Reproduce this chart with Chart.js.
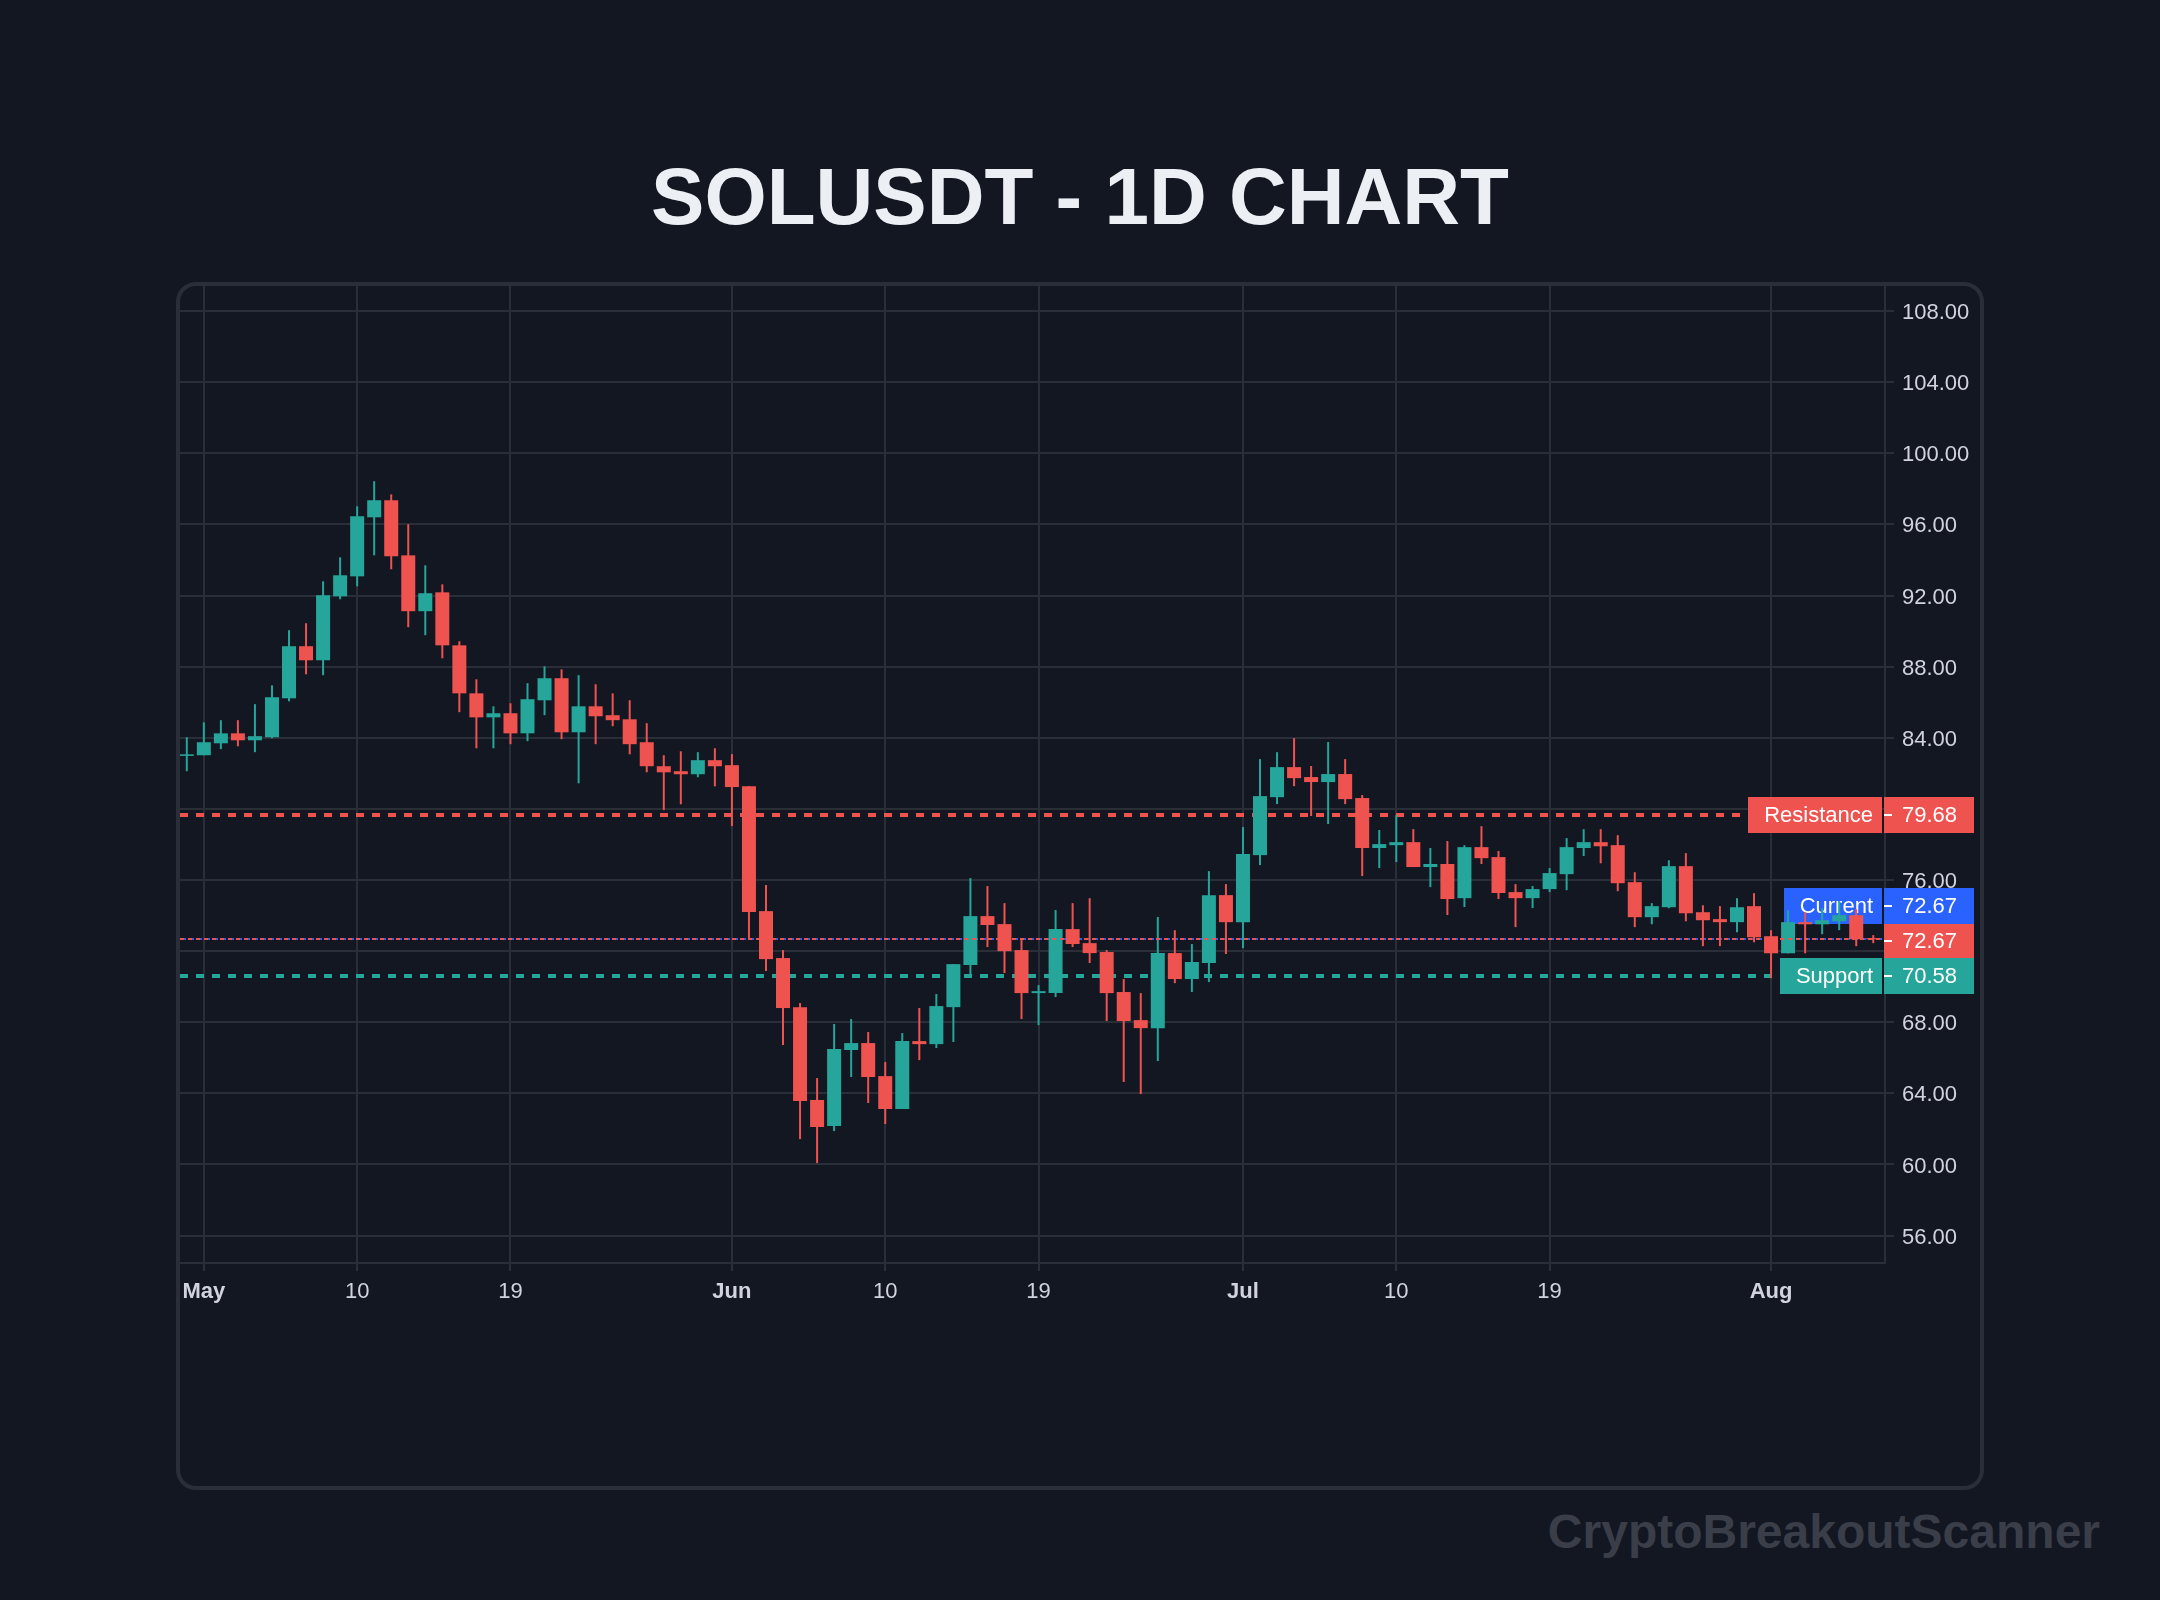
<!DOCTYPE html>
<html>
<head>
<meta charset="utf-8">
<title>SOLUSDT - 1D CHART</title>
<script src="https://cdn.jsdelivr.net/npm/chart.js@4/dist/chart.umd.min.js"></script>
<style>
    html, body { margin: 0; padding: 0; background: #131722; overflow: hidden; }
    body { width: 2160px; height: 1600px; position: relative; font-family: "Liberation Sans", Arial, sans-serif; }
    h1 { position: absolute; left: 0; width: 2160px; top: 157px; margin: 0; text-align: center; font-size: 80px; line-height: 80px; font-weight: bold; color: #eceff3; }
    #frame { position: absolute; left: 176px; top: 282px; width: 1808px; height: 1208px; box-sizing: border-box; border: 4px solid #2a2e39; border-radius: 20px; }
    #chart { position: absolute; left: 0; top: 0; }
    #mark { position: absolute; right: 60px; top: 1508px; font-size: 48px; line-height: 48px; font-weight: bold; color: #3a3e49; }
</style>
</head>
<body>
<h1>SOLUSDT - 1D CHART</h1>
<div id="frame"><canvas id="chart" width="1800" height="1200"></canvas></div>
<div id="mark">CryptoBreakoutScanner</div>
<script>
// daily candles, Apr 30 to Aug 7
const opens = [82.98, 83.02, 83.69, 84.25, 83.86, 84.03, 86.22, 89.15, 88.36, 91.96,
    93.08, 96.40, 97.36, 94.26, 91.12, 92.18, 89.20, 86.50, 85.15, 85.38,
    84.25, 86.11, 87.35, 84.31, 85.77, 85.27, 85.04, 83.75, 82.40, 82.12,
    81.95, 82.74, 82.46, 81.28, 74.25, 71.61, 68.85, 63.63, 62.16, 66.44,
    66.83, 64.97, 63.12, 66.94, 66.77, 68.85, 71.22, 73.97, 73.52, 72.06,
    69.64, 69.64, 73.24, 72.45, 71.95, 69.70, 68.12, 67.67, 71.89, 70.43,
    71.33, 75.15, 73.63, 77.40, 80.66, 82.35, 81.79, 81.51, 81.96, 80.61,
    77.80, 77.96, 78.13, 76.73, 76.90, 74.98, 77.85, 77.29, 75.32, 74.98,
    75.49, 76.33, 77.80, 78.13, 77.96, 75.88, 73.91, 74.47, 76.78, 74.19,
    73.80, 73.63, 74.53, 72.84, 71.88, 73.63, 73.51, 73.68, 74.02, 72.73];
const highs = [84.03, 84.87, 84.99, 84.99, 85.89, 86.95, 90.05, 90.44, 92.80, 94.15,
    97.02, 98.43, 97.69, 96.01, 93.70, 92.63, 89.43, 87.29, 85.77, 85.94,
    87.07, 88.02, 87.85, 87.52, 87.01, 86.50, 86.11, 84.82, 83.02, 83.24,
    83.19, 83.41, 83.08, 81.28, 75.72, 72.06, 69.08, 64.86, 67.90, 68.18,
    67.45, 65.76, 67.39, 68.80, 69.59, 71.27, 76.11, 75.66, 74.70, 72.68,
    70.09, 74.31, 74.70, 74.98, 72.06, 70.43, 69.64, 73.92, 73.18, 72.40,
    76.50, 75.77, 78.98, 82.80, 83.19, 83.98, 82.41, 83.76, 82.80, 80.78,
    78.81, 79.65, 78.86, 77.80, 78.19, 77.96, 79.03, 77.63, 75.77, 75.66,
    76.67, 78.36, 78.86, 78.86, 78.52, 76.44, 74.70, 77.11, 77.51, 74.58,
    74.53, 74.98, 75.26, 73.18, 74.30, 74.19, 74.41, 74.81, 74.36, 72.90];
const lows = [82.12, 83.02, 83.36, 83.52, 83.19, 83.97, 86.05, 87.57, 87.52, 91.79,
    92.52, 94.26, 93.48, 90.22, 89.77, 88.47, 85.44, 83.41, 83.41, 83.64,
    83.81, 85.27, 83.92, 81.44, 83.64, 84.65, 83.07, 82.06, 79.93, 80.26,
    81.78, 81.27, 79.03, 72.68, 70.88, 66.72, 61.43, 60.08, 61.88, 64.92,
    63.46, 62.28, 63.12, 65.87, 66.55, 66.89, 70.65, 72.23, 70.77, 68.18,
    67.84, 69.42, 72.23, 71.33, 68.07, 64.64, 63.96, 65.82, 70.20, 69.70,
    70.26, 71.84, 72.17, 76.84, 80.27, 81.28, 79.60, 79.15, 80.27, 76.22,
    76.67, 77.01, 76.73, 75.60, 74.03, 74.48, 76.90, 74.93, 73.35, 74.42,
    75.32, 75.43, 77.35, 76.94, 75.37, 73.35, 73.51, 74.41, 73.68, 72.28,
    72.28, 73.06, 72.50, 70.48, 71.88, 71.88, 72.95, 73.18, 72.28, 72.45];
const closes = [83.07, 83.75, 84.25, 83.86, 84.09, 86.28, 89.15, 88.36, 92.02, 93.14,
    96.46, 97.36, 94.21, 91.12, 92.13, 89.20, 86.50, 85.15, 85.38, 84.25,
    86.17, 87.35, 84.31, 85.77, 85.21, 84.99, 83.64, 82.40, 82.06, 81.95,
    82.74, 82.40, 81.23, 74.20, 71.55, 68.80, 63.57, 62.11, 66.49, 66.83,
    64.92, 63.12, 66.94, 66.77, 68.91, 71.27, 73.97, 73.47, 72.00, 69.64,
    69.75, 73.24, 72.40, 71.89, 69.64, 68.07, 67.67, 71.89, 70.43, 71.39,
    75.15, 73.63, 77.46, 80.72, 82.35, 81.73, 81.51, 81.96, 80.55, 77.80,
    78.02, 78.13, 76.73, 76.90, 74.93, 77.85, 77.23, 75.27, 74.98, 75.49,
    76.39, 77.85, 78.13, 77.90, 75.82, 73.91, 74.53, 76.78, 74.13, 73.74,
    73.63, 74.47, 72.78, 71.88, 73.63, 73.51, 73.74, 74.02, 72.67, 72.67];

const tickPositions = [1, 10, 19, 32, 41, 50, 62, 71, 80, 93];
const tickLabels = ["May", "10", "19", "Jun", "10", "19", "Jul", "10", "19", "Aug"];
const monthLabels = ["May", "Jun", "Jul", "Aug"];
const priceTicks = [56, 60, 64, 68, 72, 76, 80, 84, 88, 92, 96, 100, 104, 108];

const resistance = 79.68;
const support = 70.58;
const current = 72.67;

const UP = "#26a69a";
const DOWN = "#ef5350";
const BLUE = "#2962ff";
const GRID = "#2a2e39";
const TEXT = "#d1d4dc";
const FONT = '"Liberation Sans", Arial, sans-serif';

const candleColors = closes.map((c, i) => c >= opens[i] ? UP : DOWN);

function hLine(ctx, area, y, color, width, dash, right) {
    ctx.save();
    ctx.strokeStyle = color;
    ctx.lineWidth = width;
    ctx.setLineDash(dash);
    ctx.beginPath();
    ctx.moveTo(area.left, Math.round(y));
    ctx.lineTo(right, Math.round(y));
    ctx.stroke();
    ctx.restore();
}

function priceBox(ctx, area, centerY, name, value, color) {
    const top = Math.round(centerY) - 18;
    const text = value.toFixed(2);
    ctx.save();
    ctx.font = "22px " + FONT;
    ctx.textBaseline = "middle";
    ctx.fillStyle = color;
    ctx.fillRect(area.right - 1, top, 90, 36);
    ctx.fillStyle = "#ffffff";
    ctx.fillRect(area.right - 1, top + 17, 8, 2);
    ctx.fillText(text, area.right + 17, top + 19);
    if (name) {
        const w = Math.round(ctx.measureText(name).width) + 25;
        ctx.fillStyle = color;
        ctx.fillRect(area.right - 3 - w, top, w, 36);
        ctx.fillStyle = "#ffffff";
        ctx.textAlign = "right";
        ctx.fillText(name, area.right - 12, top + 19);
    }
    ctx.restore();
}

// lines and labels sit under the candles, only the red last price line goes over them
const overlays = {
    id: "overlays",
    beforeDatasetsDraw(chart) {
        const ctx = chart.ctx, area = chart.chartArea, y = chart.scales.y;
        const rightEnd = area.right - 3;
        hLine(ctx, area, y.getPixelForValue(current), BLUE, 2, [6, 2], rightEnd);
        hLine(ctx, area, y.getPixelForValue(resistance), DOWN, 4, [8, 8], rightEnd);
        hLine(ctx, area, y.getPixelForValue(support), UP, 4, [8, 8], rightEnd);
        priceBox(ctx, area, y.getPixelForValue(resistance), "Resistance", resistance, DOWN);
        priceBox(ctx, area, y.getPixelForValue(current) + 2, null, current, DOWN);
        priceBox(ctx, area, y.getPixelForValue(current) - 33, "Current", current, BLUE);
        priceBox(ctx, area, y.getPixelForValue(support), "Support", support, UP);
    },
    afterDatasetsDraw(chart) {
        const ctx = chart.ctx, area = chart.chartArea, y = chart.scales.y;
        hLine(ctx, area, y.getPixelForValue(current), DOWN, 2, [4, 4], area.right - 3);
    }
};

function noPadding(s) {
    s.paddingTop = s.paddingBottom = s.paddingLeft = s.paddingRight = 0;
}

new Chart(document.getElementById("chart"), {
    type: "bar",
    data: {
        datasets: [{
            label: "wick",
            data: lows.map((l, i) => ({ x: i, y: [l, highs[i]] })),
            backgroundColor: candleColors,
            barThickness: 2,
            maxBarThickness: 2,
            order: 2
        }, {
            label: "body",
            data: opens.map((o, i) => ({ x: i, y: [o, closes[i]] })),
            backgroundColor: candleColors,
            barThickness: 14,
            maxBarThickness: 14,
            order: 1
        }]
    },
    plugins: [overlays],
    options: {
        responsive: false,
        devicePixelRatio: 1,
        animation: false,
        events: [],
        layout: { padding: 0, autoPadding: false },
        datasets: { bar: { grouped: false, borderWidth: 0, inflateAmount: 0 } },
        plugins: { legend: { display: false }, title: { display: false }, tooltip: { enabled: false } },
        scales: {
            x: {
                type: "linear",
                offset: false,
                min: -0.3992,
                max: 99.689,
                afterBuildTicks: s => { s.ticks = tickPositions.map(v => ({ value: v })); },
                afterFit: s => { s.height = 223; noPadding(s); },
                grid: { offset: false, color: GRID, lineWidth: 2, tickLength: 8 },
                border: { color: GRID, width: 2 },
                ticks: {
                    color: TEXT,
                    padding: 8,
                    autoSkip: false,
                    maxRotation: 0,
                    font: c => ({
                        family: FONT,
                        size: 22,
                        weight: monthLabels.includes(tickLabels[tickPositions.indexOf(c.tick && c.tick.value)]) ? "bold" : "normal"
                    }),
                    callback: v => tickLabels[tickPositions.indexOf(v)]
                }
            },
            y: {
                position: "right",
                min: 54.46,
                max: 109.41,
                afterBuildTicks: s => { s.ticks = priceTicks.map(v => ({ value: v })); },
                afterFit: s => { s.width = 95; noPadding(s); },
                grid: { color: GRID, lineWidth: 2, tickLength: 9 },
                border: { color: GRID, width: 2 },
                ticks: {
                    color: TEXT,
                    padding: 8,
                    labelOffset: 2,
                    autoSkip: false,
                    font: { family: FONT, size: 22 },
                    callback: v => v.toFixed(2)
                }
            }
        }
    }
});
</script>
</body>
</html>
